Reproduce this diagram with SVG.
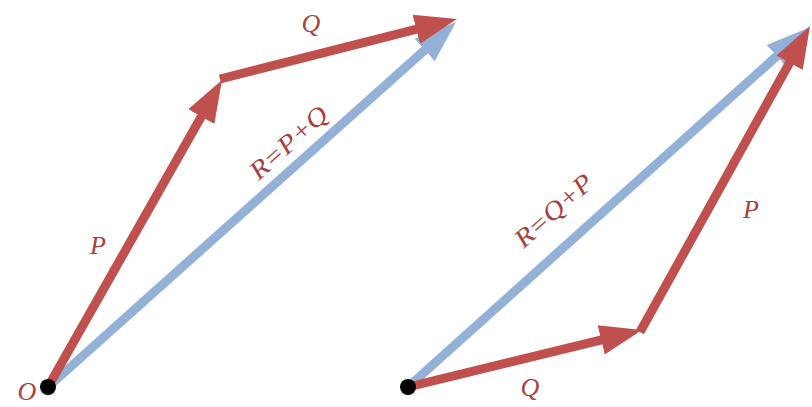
<svg xmlns="http://www.w3.org/2000/svg" width="812" height="407" viewBox="0 0 812 407">
<style>
.red{stroke:#c0504d;stroke-width:9;fill:none;stroke-linejoin:miter}
.blue{stroke:#93b1d6;stroke-width:9;fill:none}
.lbl{font-family:"Liberation Serif","Times New Roman",serif;font-style:italic;fill:#a8403d;font-size:26px;text-anchor:middle}
.dot{fill:#000}
</style>
<defs>
<marker id="hr" markerUnits="userSpaceOnUse" markerWidth="44" markerHeight="32" viewBox="0 -16 44 32" refX="28" refY="0" orient="auto">
<path d="M0,-15 L42,0 L0,15 z" fill="#c0504d"/>
</marker>
<marker id="hb" markerUnits="userSpaceOnUse" markerWidth="44" markerHeight="32" viewBox="0 -16 44 32" refX="28" refY="0" orient="auto">
<path d="M0,-15 L42,0 L0,15 z" fill="#93b1d6"/>
</marker>
</defs>
<g id="connectors">
<line class="blue" x1="48" y1="387" x2="445.6" y2="31.3" marker-end="url(#hb)"/>
<line class="red" x1="48" y1="387" x2="215.1" y2="92.2" marker-end="url(#hr)"/>
<line class="red" x1="220" y1="79" x2="443.4" y2="22.4" marker-end="url(#hr)"/>
<line class="blue" x1="408" y1="387" x2="797.6" y2="37.4" marker-end="url(#hb)"/>
<line class="red" x1="408" y1="387" x2="628.4" y2="333.3" marker-end="url(#hr)"/>
<line class="red" x1="640" y1="332" x2="803.2" y2="38.2" marker-end="url(#hr)"/>
</g>
<g id="origin-left">
<circle class="dot" cx="48" cy="387" r="8"/>
<text class="lbl" x="27" y="400">O</text>
</g>
<g id="origin-right">
<circle class="dot" cx="408" cy="387" r="8"/>
</g>
<g id="labels">
<text class="lbl" x="98" y="254">P</text>
<text class="lbl" x="311" y="32">Q</text>
<text class="lbl" transform="translate(289,143) rotate(-42)" x="0" y="8" textLength="96" lengthAdjust="spacingAndGlyphs">R=P+Q</text>
<text class="lbl" transform="translate(554,211) rotate(-42)" x="0" y="8" textLength="96" lengthAdjust="spacingAndGlyphs">R=Q+P</text>
<text class="lbl" x="751" y="218">P</text>
<text class="lbl" x="530" y="396">Q</text>
</g>
</svg>
